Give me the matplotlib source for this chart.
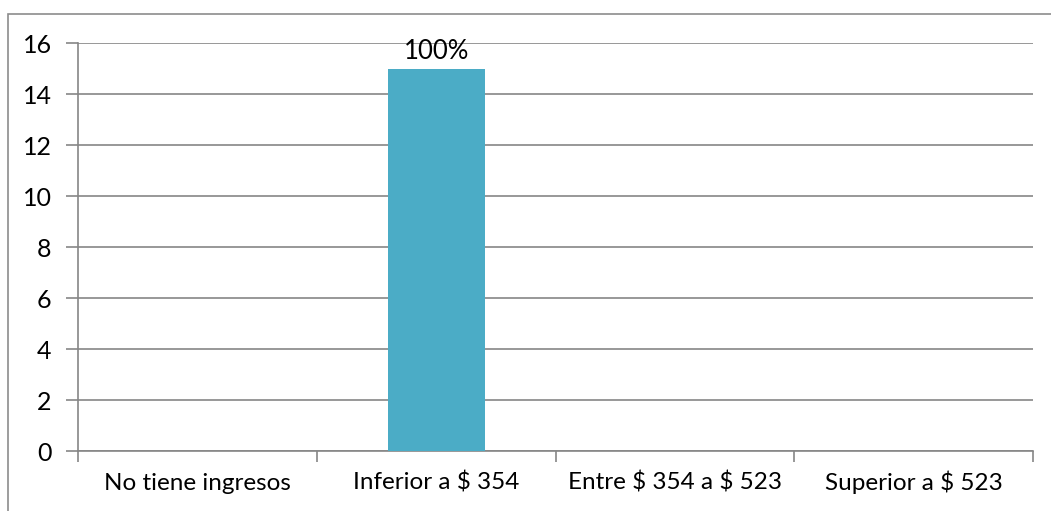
import matplotlib.pyplot as plt
from matplotlib.patches import Rectangle

categorias = ['No tiene ingresos', 'Inferior a \\$ 354', 'Entre \\$ 354 a \\$ 523', 'Superior a \\$ 523']
valores = [0, 15, 0, 0]
etiquetas = ['', '100%', '', '']

plt.rcParams['font.family'] = ['Lato', 'DejaVu Sans']

fig = plt.figure(figsize=(10.51, 5.11), dpi=100)
ax = fig.add_axes([78 / 1051, 1 - 451 / 511, (1033 - 78) / 1051, (451 - 43) / 511])

# marco gris exterior (solo se ven los lados izquierdo y superior)
fig.patches.append(Rectangle((8 / 1051, -0.1), 1.2, 1 - 14 / 511 + 0.1, transform=fig.transFigure,
                             fill=False, edgecolor='#8c8c8c', linewidth=1.2))

x = list(range(len(categorias)))
bars = ax.bar(x, valores, width=0.406, color='#4BACC6', zorder=3)
for b, et in zip(bars, etiquetas):
    if et:
        ax.annotate(et, (b.get_x() + b.get_width() / 2, b.get_height()), xytext=(0, 3),
                    textcoords='offset points', ha='center', va='bottom', fontsize=18.5, color='black')

ax.set_xlim(-0.5, len(categorias) - 0.5)
ax.set_ylim(0, 16)
ax.set_yticks(range(0, 17, 2))
ax.yaxis.grid(True, color='#868686', linewidth=1.2, zorder=0)
ax.set_axisbelow(True)

ax.set_xticks(x)
ax.set_xticklabels(categorias, fontsize=17.5, va='baseline')
ax.set_xticks([i - 0.5 for i in range(len(categorias) + 1)], minor=True)
ax.tick_params(axis='x', which='major', length=0, pad=28)
ax.tick_params(axis='x', which='minor', length=8, width=1.2, color='#868686', direction='out')
ax.tick_params(axis='y', length=9, width=1.2, color='#868686', labelsize=18, pad=10)

for s in ['top', 'right']:
    ax.spines[s].set_visible(False)
for s in ['left', 'bottom']:
    ax.spines[s].set_color('#868686')
    ax.spines[s].set_linewidth(1.2)

fig.savefig('out.png', dpi=100)
